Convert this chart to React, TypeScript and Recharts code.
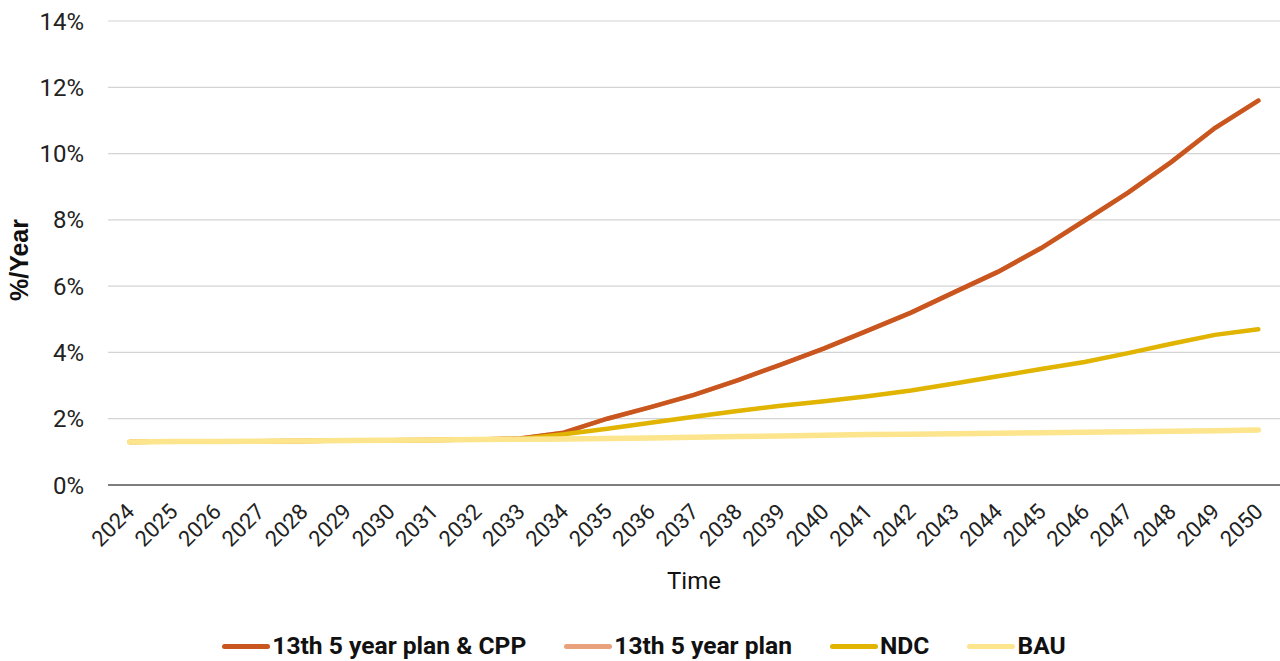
import { LineChart, Line, XAxis, YAxis, CartesianGrid, Legend } from 'recharts'

const years = [
  '2024', '2025', '2026', '2027', '2028', '2029', '2030', '2031', '2032',
  '2033', '2034', '2035', '2036', '2037', '2038', '2039', '2040', '2041',
  '2042', '2043', '2044', '2045', '2046', '2047', '2048', '2049', '2050',
]

// growth rates, %/year
const planCpp = [
  1.30, 1.31, 1.31, 1.32, 1.33, 1.34, 1.35, 1.36, 1.37, 1.40,
  1.58, 2.00, 2.35, 2.72, 3.16, 3.63, 4.12, 4.66, 5.20, 5.82,
  6.43, 7.15, 7.98, 8.82, 9.75, 10.77, 11.60,
]
const plan = [
  1.30, 1.31, 1.31, 1.32, 1.33, 1.34, 1.35, 1.36, 1.37, 1.40,
  1.58, 2.00, 2.35, 2.72, 3.16, 3.63, 4.12, 4.66, 5.20, 5.82,
  6.43, 7.15, 7.98, 8.82, 9.75, 10.77, 11.60,
]
const ndc = [
  1.30, 1.31, 1.31, 1.32, 1.33, 1.34, 1.35, 1.36, 1.37, 1.39,
  1.53, 1.70, 1.88, 2.06, 2.23, 2.39, 2.53, 2.68, 2.85, 3.06,
  3.28, 3.50, 3.71, 3.98, 4.26, 4.53, 4.70,
]
const bau = [
  1.30, 1.31, 1.31, 1.32, 1.33, 1.34, 1.35, 1.36, 1.37, 1.38,
  1.39, 1.40, 1.42, 1.44, 1.46, 1.48, 1.50, 1.52, 1.53, 1.55,
  1.56, 1.58, 1.59, 1.61, 1.62, 1.64, 1.66,
]

const yTicks = [0, 2, 4, 6, 8, 10, 12, 14]

const series = [
  { key: 'planCpp', name: '13th 5 year plan & CPP', color: '#c9561f', width: 4.5 },
  { key: 'plan', name: '13th 5 year plan', color: '#e9a27c', width: 4.5 },
  { key: 'ndc', name: 'NDC', color: '#e0b400', width: 4.5 },
  { key: 'bau', name: 'BAU', color: '#fce58c', width: 5.5 },
]

const data = years.map((year, i) => ({
  year,
  planCpp: planCpp[i],
  plan: plan[i],
  ndc: ndc[i],
  bau: bau[i],
}))

// draw order: plan sits underneath plan & CPP, BAU on top
const drawOrder = ['plan', 'planCpp', 'ndc', 'bau']

const YearTick = ({ x, y, payload }: any) => {
  const px = x + 6
  const py = y + 20
  return (
    <text
      x={px}
      y={py}
      transform={`rotate(-45, ${px}, ${py})`}
      textAnchor="end"
      fontSize={22}
      fill="#222"
      fontFamily="Roboto, sans-serif"
    >
      {payload.value}
    </text>
  )
}

const YTitle = ({ viewBox }: any) => {
  const x = viewBox.x + 19
  const y = viewBox.y + viewBox.height / 2 + 7
  return (
    <text
      x={x}
      y={y}
      transform={`rotate(-90, ${x}, ${y})`}
      textAnchor="middle"
      dominantBaseline="central"
      fontSize={25}
      fontWeight="bold"
      fill="#111"
      fontFamily="'Liberation Sans', Arial, sans-serif"
    >
      %/Year
    </text>
  )
}

const XTitle = ({ viewBox }: any) => (
  <text
    x={viewBox.x + viewBox.width / 2}
    y={589}
    textAnchor="middle"
    fontSize={24}
    fill="#111"
    fontFamily="Roboto, sans-serif"
  >
    Time
  </text>
)

const LegendRow = () => (
  <div
    style={{
      height: 56,
      boxSizing: 'border-box',
      paddingTop: 26,
      paddingLeft: 8,
      display: 'flex',
      justifyContent: 'center',
      alignItems: 'center',
      gap: 38,
      fontFamily: 'Roboto, sans-serif',
      fontWeight: 'bold',
      fontSize: 24.6,
      color: '#111',
    }}
  >
    {series.map((s) => (
      <div key={s.key} style={{ display: 'flex', alignItems: 'center', gap: 2 }}>
        <span style={{ width: 48, height: 5, borderRadius: 3, background: s.color, display: 'inline-block' }} />
        <span style={{ lineHeight: '30px' }}>{s.name}</span>
      </div>
    ))}
  </div>
)

export default function App() {
  return (
    <div style={{ position: 'absolute', left: 0, top: 0, background: '#fff' }}>
      <LineChart width={1280} height={661} data={data} margin={{ top: 21, right: 0, left: 0, bottom: 0 }}>
        <CartesianGrid vertical={false} stroke="#d4d4d4" strokeWidth={1.2} />
        <XAxis
          dataKey="year"
          interval={0}
          height={120}
          padding={{ left: 21.7, right: 21.7 }}
          tickLine={false}
          axisLine={{ stroke: '#5a5a5a', strokeWidth: 1.6 }}
          tick={<YearTick />}
          label={<XTitle />}
        />
        <YAxis
          width={108}
          domain={[0, 14]}
          ticks={yTicks}
          tickFormatter={(v) => `${v}%`}
          axisLine={false}
          tickLine={false}
          tickSize={0}
          tickMargin={24}
          tick={{ fontSize: 24, fill: '#222', fontFamily: 'Roboto, sans-serif' }}
          label={<YTitle />}
        />
        <Legend verticalAlign="bottom" content={<LegendRow />} />
        {drawOrder.map((k) => {
          const s = series.find((d) => d.key === k)!
          return (
            <Line
              key={k}
              type="linear"
              dataKey={k}
              name={s.name}
              stroke={s.color}
              strokeWidth={s.width}
              strokeLinecap="round"
              dot={false}
              activeDot={false}
              isAnimationActive={false}
            />
          )
        })}
      </LineChart>
    </div>
  )
}
